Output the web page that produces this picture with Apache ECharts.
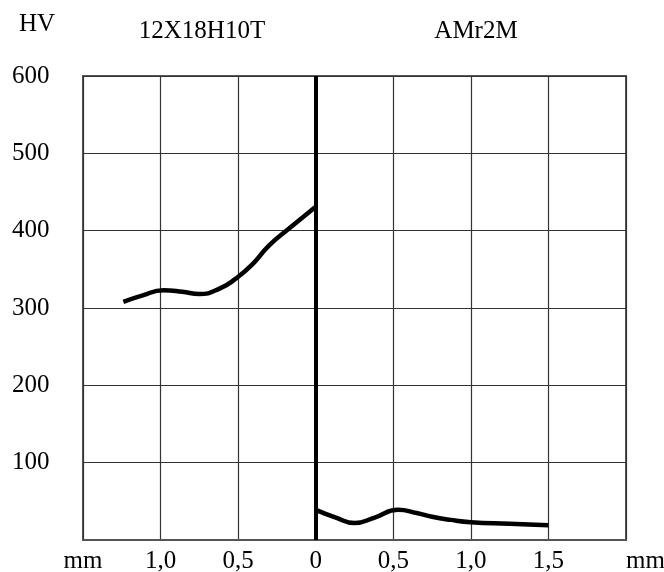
<!DOCTYPE html>
<html>
<head>
<meta charset="utf-8">
<title>HV</title>
<script src="https://cdn.jsdelivr.net/npm/echarts@6/dist/echarts.min.js"></script>
<style>
	html, body { margin: 0; padding: 0; background: #fff; }
	#chart_hv { width: 664px; height: 572px; }
</style>
</head>
<body>
<div id="chart_hv"></div>
<script>
// data: distance from the joint (mm), hardness HV
var leftMm  = [-1.24, -1.12, -0.98, -0.86, -0.75, -0.62, -0.515, -0.41, -0.30, -0.17, 0];
var leftHV  = [308, 316, 323, 321, 318, 325, 338, 356, 381, 403, 431];
var rightMm = [0, 0.13, 0.25, 0.38, 0.53, 0.65, 0.75, 0.87, 1.0, 1.25, 1.5];
var rightHV = [39, 29, 22, 29, 39, 35, 30, 26, 23, 21, 19];
var xTicks  = [-1.5, -1.0, -0.5, 0, 0.5, 1.0, 1.5, 2.0];
var yTicks  = [0, 100, 200, 300, 400, 500, 600];
var leftName = '12X18H10T', rightName = 'AMr2M';

(function(){
	var myChart = echarts.init(document.getElementById('chart_hv'));
	var font = 'Liberation Serif';

	function pairs(xs, ys) {
		var out = [];
		for (var i = 0; i < xs.length; i++) out.push([xs[i], ys[i]]);
		return out;
	}

	var option = {
		animation: false,
		grid: {
			left: 83, right: 38, top: 76, bottom: 32,
			containLabel: false, outerBoundsMode: 'none',
			show: true, borderWidth: 2, borderColor: '#555'
		},
		xAxis: {
			type: 'value',
			min: xTicks[0], max: xTicks[xTicks.length - 1], interval: 0.5,
			axisLine: { show: true, lineStyle: { color: '#555', width: 2 } },
			axisTick: { show: false },
			splitLine: { show: true, lineStyle: { color: '#333', width: 1.2 } },
			axisLabel: {
				color: '#000', fontFamily: font, fontSize: 25, margin: 9,
				alignMinLabel: 'center', alignMaxLabel: 'left',
				formatter: function (v) {
					if (v === xTicks[0] || v === xTicks[xTicks.length - 1]) return 'mm';
					if (v === 0) return '0';
					return Math.abs(v).toFixed(1).replace('.', ',');
				}
			}
		},
		yAxis: {
			type: 'value',
			min: yTicks[0], max: yTicks[yTicks.length - 1], interval: 100,
			axisLine: { show: true, lineStyle: { color: '#555', width: 2 } },
			axisTick: { show: false },
			splitLine: { show: true, lineStyle: { color: '#333', width: 1.2 } },
			axisLabel: {
				color: '#000', fontFamily: font, fontSize: 25,
				align: 'left', margin: 71,
				formatter: function (v) { return v === 0 ? '' : String(v); }
			}
		},
		graphic: [
			{ type: 'text', left: 19, top: 12, style: { text: 'HV', font: '25px "Liberation Serif"', fill: '#000' } },
			{ type: 'text', x: 202, y: 31, style: { text: leftName, font: '25px "Liberation Serif"', fill: '#000', align: 'center', verticalAlign: 'middle' } },
			{ type: 'text', x: 476, y: 31, style: { text: rightName, font: '25px "Liberation Serif"', fill: '#000', align: 'center', verticalAlign: 'middle' } }
		],
		series: [
			{
				name: leftName, type: 'line', smooth: 0.5, symbol: 'none',
				lineStyle: { color: '#000', width: 4.5 },
				data: pairs(leftMm, leftHV),
				// the joint line at 0
				markLine: {
					silent: true, symbol: 'none', label: { show: false },
					lineStyle: { color: '#000', width: 4, type: 'solid' },
					data: [{ xAxis: 0 }]
				}
			},
			{
				name: rightName, type: 'line', smooth: 0.5, symbol: 'none',
				lineStyle: { color: '#000', width: 4.5 },
				data: pairs(rightMm, rightHV)
			}
		]
	};
	myChart.setOption(option, true);
}());
</script>
</body>
</html>
